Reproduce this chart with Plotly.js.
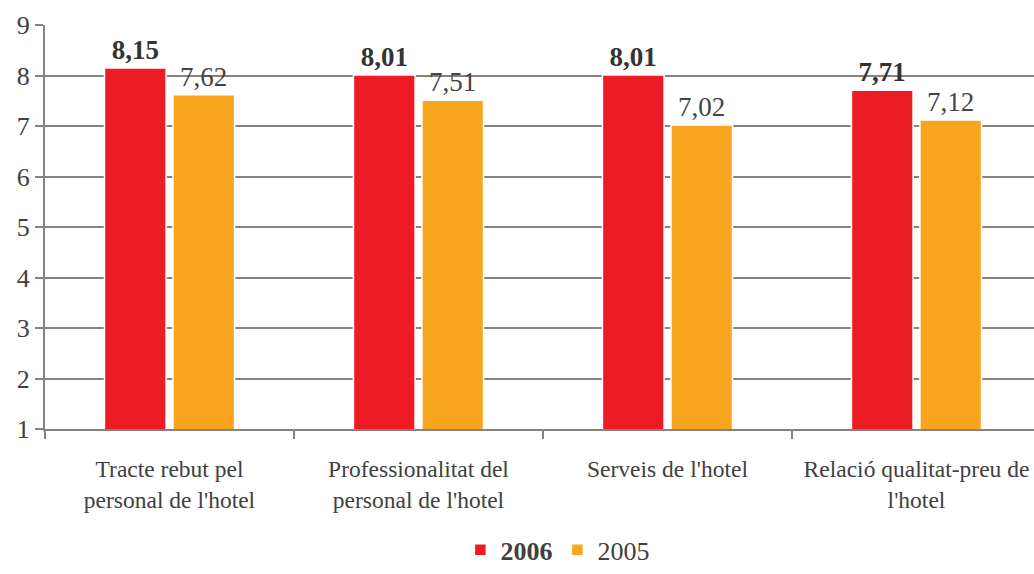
<!DOCTYPE html>
<html>
<head>
<meta charset="utf-8">
<script src="https://cdn.plot.ly/plotly-3.0.1.min.js"></script>
<style>html,body{margin:0;padding:0;background:#fff;}#chart{width:1034px;height:574px;}</style>
</head>
<body>
<div id="chart"></div>
<script>
const categories = ["Tracte rebut pel<br>personal de l'hotel", "Professionalitat del<br>personal de l'hotel", "Serveis de l'hotel", "Relació qualitat-preu de<br>l'hotel"];
const values2006 = [8.15, 8.01, 8.01, 7.71];
const values2005 = [7.62, 7.51, 7.02, 7.12];
const seriesNames = ["2006", "2005"];

const fmt = v => v.toFixed(2).replace('.', ',');
const serif = "Liberation Serif, Times New Roman, serif";
const grid = "#8a817c";
const txt = "#404040";

const traces = [
  {
    type: 'bar', name: '<b>' + seriesNames[0] + '</b>', x: categories, y: values2006,
    marker: {color: '#ED1C24', line: {color: '#ffffff', width: 1.5}},
    text: values2006.map(fmt), texttemplate: '<b>%{text}</b>', textposition: 'outside',
    textfont: {family: serif, size: 27, color: '#333333'}, cliponaxis: false, hoverinfo: 'none'
  },
  {
    type: 'bar', name: seriesNames[1], x: categories, y: values2005,
    marker: {color: '#F7A51E', line: {color: '#ffffff', width: 1.5}},
    text: values2005.map(fmt), texttemplate: '%{text}', textposition: 'outside',
    textfont: {family: serif, size: 27, color: '#444444'}, cliponaxis: false, hoverinfo: 'none'
  }
];

const layout = {
  width: 1034, height: 574,
  margin: {l: 45, r: 0, t: 25, b: 145, autoexpand: false},
  paper_bgcolor: '#ffffff', plot_bgcolor: '#ffffff',
  font: {family: serif, color: txt, size: 20},
  barmode: 'group', bargap: 0.45, bargroupgap: 0.1,
  xaxis: {
    type: 'category', range: [-0.5, 3.472], tickson: 'boundaries',
    ticks: 'outside', ticklen: 8, tickcolor: grid, tickwidth: 2,
    showline: true, linecolor: grid, linewidth: 2, showgrid: false,
    ticklabelstandoff: 18,
    tickfont: {family: serif, size: 23.5, color: txt}, fixedrange: true
  },
  yaxis: {
    range: [1, 9], dtick: 1, tick0: 1,
    showgrid: true, gridcolor: grid, gridwidth: 2,
    ticks: 'outside', ticklen: 8, tickcolor: grid, tickwidth: 2,
    showline: true, linecolor: grid, linewidth: 2, zeroline: false,
    tickfont: {family: serif, size: 26, color: txt}, fixedrange: true
  },
  showlegend: true,
  legend: {
    orientation: 'h', x: 0.42, xanchor: 'left', y: -0.357, yanchor: 'bottom',
    font: {family: serif, size: 26, color: txt}, itemwidth: 30, tracegroupgap: 0
  }
};

Plotly.newPlot('chart', traces, layout, {displayModeBar: false, staticPlot: true});
</script>
</body>
</html>
